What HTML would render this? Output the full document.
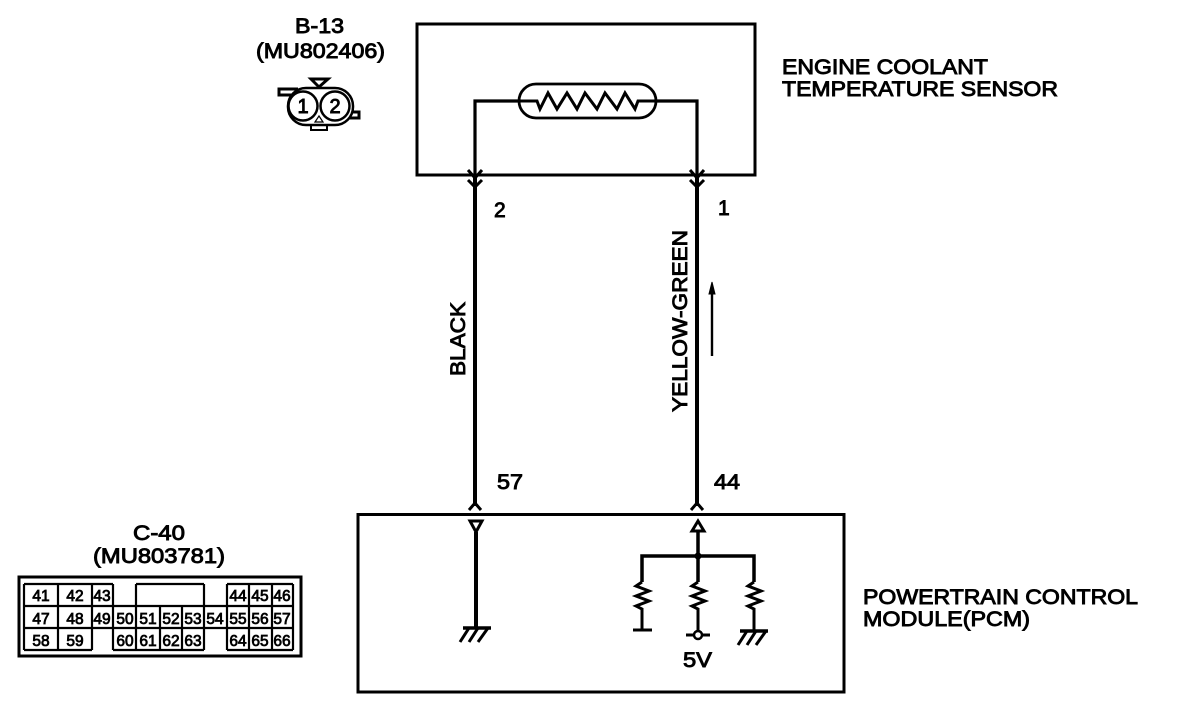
<!DOCTYPE html>
<html><head><meta charset="utf-8"><style>
html,body{margin:0;padding:0;background:#fff;width:1184px;height:714px;overflow:hidden}
svg{display:block}
text{font-family:"Liberation Sans",sans-serif;fill:#000;stroke:#000;stroke-width:.9}
.t{font-size:21px}
.c{font-size:15.5px;text-anchor:middle;stroke-width:.8}
</style></head><body>
<svg width="1184" height="714" viewBox="0 0 1184 714" xmlns="http://www.w3.org/2000/svg">
<g fill="none" stroke="#000" stroke-width="3">
<rect x="417" y="24" width="338" height="151"/>
<rect x="358" y="514.500" width="486" height="177.500"/>
<path d="M475 175V101H520M657 101H697V175" stroke-width="3.200"/>
<rect x="519" y="84" width="137" height="34" rx="17" stroke-width="2.800"/>
<path d="M520 101H537L540 109L548 93L557 109L567 93L577 109L585 93L597 109L605 93L617 109L625 93L635 109L638 101H657" stroke-width="3"/>
<!-- wires -->
<path d="M475 176V506" stroke-width="4"/>
<path d="M697 176V506" stroke-width="4"/>
<path d="M468 170L475 178L482 170M468 180L475 187L482 180M690 170L697 178L704 170M690 180L697 187L704 180" stroke-width="3"/>
<path d="M469 510L475 503L481 510M691 510L697 503L703 510" stroke-width="3"/>
<!-- arrow -->
<path d="M712 290V356" stroke-width="2.400"/>
<path d="M712 282L715 294H709Z" fill="#000" stroke-width="1"/>
<!-- left pin -->
<path d="M470 521H482L476 532Z" stroke-width="3"/>
<path d="M476 532V628" stroke-width="4"/>
<path d="M463 628H491" stroke-width="3.500"/>
<path d="M469 628L460 642M478 628L469 642M488 628L478 642" stroke-width="3"/>
<!-- right pin -->
<path d="M692 531H704L698 521Z" stroke-width="3"/>
<path d="M698 531V582" stroke-width="3.500"/>
<path d="M642 582V556H754V582" stroke-width="3.500"/>
<path d="M642 582L636 586L649 591L636 596L649 601L636 606L642 609V630M633 630H652" stroke-width="3"/>
<path d="M698 582L692 586L705 591L692 596L705 601L692 606L698 609V632" stroke-width="3"/>
<path d="M754 582L748 586L761 591L748 596L761 601L748 606L754 609V631" stroke-width="3"/>
<path d="M740 631H768" stroke-width="3.500"/>
<path d="M747 631L738 645M756 631L747 645M766 631L756 645" stroke-width="3"/>
<path d="M686 635H710" stroke-width="3"/>
<circle cx="698" cy="635" r="4" fill="#fff" stroke-width="2.500"/>
</g>
<circle cx="698" cy="556" r="3.500" fill="#000"/>
<!-- connector B-13 -->
<g fill="none" stroke="#000" stroke-width="3">
<path d="M293 95H279V89H298M345 118H359V112H345M311 79L319 87L328 79Z"/>
<path d="M311 125V130H327V125" stroke-width="2"/>
<rect x="288" y="88" width="65" height="37" rx="18" fill="#fff" stroke-width="2.500"/>
<circle cx="303" cy="106" r="14.500" stroke-width="2.500"/>
<circle cx="335" cy="106" r="14.500" stroke-width="2.500"/>
<path d="M315 122L319 116L323 122Z" stroke-width="1.200"/>
</g>
<text x="303" y="113" font-size="20" stroke-width=".9" text-anchor="middle">1</text>
<text x="335" y="113" font-size="20" stroke-width=".9" text-anchor="middle">2</text>
<!-- table -->
<g fill="none" stroke="#000">
<rect x="19" y="577" width="282" height="79" stroke-width="3"/>
<path stroke-width="2.200" d="M24 584H113M136 584H204M227 584H293M24 606H293M24 628H293M24 650H92M113 650H204M227 650H293M24 584V650M58 584V650M92 584V650M113 584V650M136 584V650M160 606V650M182 606V650M204 584V650M227 584V650M249 584V650M272 584V650M293 584V650"/>
</g>
<g class="num">
<text class="c" x="41" y="601">41</text><text class="c" x="75" y="601">42</text><text class="c" x="102" y="601">43</text>
<text class="c" x="238" y="601">44</text><text class="c" x="260" y="601">45</text><text class="c" x="282" y="601">46</text>
<text class="c" x="41" y="624">47</text><text class="c" x="75" y="624">48</text><text class="c" x="102" y="624">49</text>
<text class="c" x="125" y="624">50</text><text class="c" x="148" y="624">51</text><text class="c" x="171" y="624">52</text><text class="c" x="193" y="624">53</text>
<text class="c" x="215" y="624">54</text><text class="c" x="238" y="624">55</text><text class="c" x="260" y="624">56</text><text class="c" x="282" y="624">57</text>
<text class="c" x="41" y="646">58</text><text class="c" x="75" y="646">59</text>
<text class="c" x="125" y="646">60</text><text class="c" x="148" y="646">61</text><text class="c" x="171" y="646">62</text><text class="c" x="193" y="646">63</text>
<text class="c" x="238" y="646">64</text><text class="c" x="260" y="646">65</text><text class="c" x="282" y="646">66</text>
</g>
<!-- labels -->
<text class="t" x="295" y="33" textLength="49" lengthAdjust="spacingAndGlyphs">B-13</text>
<text class="t" x="256" y="58" textLength="129" lengthAdjust="spacingAndGlyphs">(MU802406)</text>
<text class="t" x="782" y="74" textLength="206" lengthAdjust="spacingAndGlyphs">ENGINE COOLANT</text>
<text class="t" x="782" y="96" textLength="276" lengthAdjust="spacingAndGlyphs">TEMPERATURE SENSOR</text>
<text class="t" x="494" y="217">2</text>
<text class="t" x="718" y="215">1</text>
<text class="t" x="497" y="489" textLength="26" lengthAdjust="spacingAndGlyphs">57</text>
<text class="t" x="714" y="489" textLength="26" lengthAdjust="spacingAndGlyphs">44</text>
<text class="t" x="133" y="540" textLength="52" lengthAdjust="spacingAndGlyphs">C-40</text>
<text class="t" x="93" y="563" textLength="132" lengthAdjust="spacingAndGlyphs">(MU803781)</text>
<text class="t" x="863" y="604" textLength="275" lengthAdjust="spacingAndGlyphs">POWERTRAIN CONTROL</text>
<text class="t" x="863" y="626" textLength="167" lengthAdjust="spacingAndGlyphs">MODULE(PCM)</text>
<text class="t" x="683" y="667" textLength="29" lengthAdjust="spacingAndGlyphs">5V</text>
<text class="t" transform="translate(465,376) rotate(-90)" textLength="74" lengthAdjust="spacingAndGlyphs">BLACK</text>
<text class="t" transform="translate(687,412) rotate(-90)" textLength="182" lengthAdjust="spacingAndGlyphs">YELLOW-GREEN</text>
</svg>
</body></html>
